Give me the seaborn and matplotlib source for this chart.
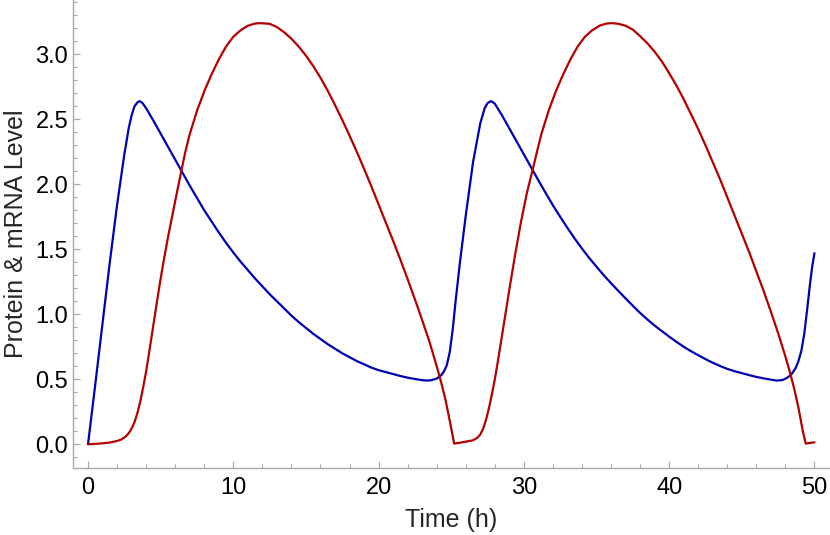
#!/usr/bin/env python3
"""Protein & mRNA oscillation over 50 h (two cycles), Mathematica-like look."""

import matplotlib

matplotlib.use("Agg")

import matplotlib.pyplot as plt
import pandas as pd
import seaborn as sns
from matplotlib.ticker import MultipleLocator

# mRNA (blue), values
mrna_time = [
    0.0, 0.5, 1.0, 1.5, 2.0, 2.5, 2.8, 3.0, 3.2, 3.4, 3.55, 3.75, 4.0, 4.5,
    5.0, 5.5, 6.0, 6.5, 7.0, 7.5, 8.0, 8.5, 9.0, 9.5, 10.0, 10.5, 11.0, 11.5,
    12.0, 12.5, 13.0, 13.5, 14.0, 14.5, 15.0, 15.5, 16.0, 16.5, 17.0, 17.5,
    18.0, 18.5, 19.0, 19.5, 20.0, 20.5, 21.0, 21.5, 22.0, 22.5, 23.0, 23.3,
    23.6, 24.0, 24.3, 24.5, 24.7, 24.9, 25.1, 25.3, 25.6, 26.0, 26.5, 27.0,
    27.3, 27.5, 27.75, 28.0, 28.5, 29.0, 29.5, 30.0, 30.5, 31.0, 31.5, 32.0,
    32.5, 33.0, 33.5, 34.0, 34.5, 35.0, 35.5, 36.0, 36.5, 37.0, 37.5, 38.0,
    38.5, 39.0, 39.5, 40.0, 40.5, 41.0, 41.5, 42.0, 42.5, 43.0, 43.5, 44.0,
    44.5, 45.0, 45.5, 46.0, 46.5, 47.0, 47.4, 47.8, 48.1, 48.4, 48.7, 48.9,
    49.1, 49.3, 49.5, 49.7, 49.85, 50.0,
]
mrna_level = [
    0.0, 0.46, 0.93, 1.40, 1.84, 2.23, 2.43, 2.53, 2.60, 2.63, 2.64, 2.625, 2.585, 2.49,
    2.39, 2.29, 2.19, 2.09, 1.99, 1.895, 1.80, 1.715, 1.63, 1.55, 1.475, 1.405, 1.34, 1.275,
    1.215, 1.155, 1.10, 1.045, 0.99, 0.94, 0.895, 0.85, 0.81, 0.77, 0.735, 0.70,
    0.67, 0.64, 0.615, 0.59, 0.57, 0.555, 0.54, 0.525, 0.512, 0.502, 0.493, 0.49,
    0.492, 0.505, 0.53, 0.56, 0.61, 0.71, 0.88, 1.10, 1.40, 1.76, 2.17, 2.47,
    2.585, 2.625, 2.64, 2.62, 2.53, 2.43, 2.33, 2.23, 2.13, 2.03, 1.933, 1.838,
    1.75, 1.664, 1.582, 1.505, 1.433, 1.366, 1.30, 1.239, 1.18, 1.122, 1.065, 1.01,
    0.96, 0.913, 0.87, 0.828, 0.788, 0.75, 0.716, 0.685, 0.655, 0.627, 0.602, 0.58,
    0.562, 0.547, 0.532, 0.518, 0.507, 0.497, 0.49, 0.494, 0.51, 0.535, 0.585, 0.64,
    0.72, 0.85, 1.04, 1.24, 1.37, 1.47,
]

# protein (red)
protein_time = [
    0.0, 0.5, 1.0, 1.5, 2.0, 2.3, 2.6, 2.8, 3.0, 3.2, 3.4, 3.6, 3.8, 4.0, 4.2,
    4.4, 4.6, 4.8, 5.0, 5.2, 5.5, 6.0, 6.4, 6.7, 7.0, 7.5, 8.0, 8.5, 9.0, 9.5,
    10.0, 10.5, 11.0, 11.5, 11.85, 12.5, 13.0, 13.5, 14.0, 14.5, 15.0, 15.5,
    16.0, 16.5, 17.0, 17.5, 18.0, 18.5, 19.0, 19.5, 20.0, 20.5, 21.0, 21.5,
    22.0, 22.5, 23.0, 23.5, 24.0, 24.3, 24.6, 24.9, 25.2, 25.5, 26.0, 26.5,
    26.8, 27.0, 27.2, 27.4, 27.6, 27.8, 28.0, 28.2, 28.4, 28.6, 28.8, 29.0,
    29.4, 29.8, 30.2, 30.6, 30.9, 31.2, 31.7, 32.2, 32.7, 33.2, 33.7, 34.2,
    34.7, 35.2, 35.7, 36.05, 36.5, 37.0, 37.5, 38.0, 38.5, 39.0, 39.5, 40.0,
    40.5, 41.0, 41.5, 42.0, 42.5, 43.0, 43.5, 44.0, 44.5, 45.0, 45.5, 46.0,
    46.5, 47.0, 47.5, 48.0, 48.3, 48.6, 48.9, 49.2, 49.4, 49.7, 50.0,
]
protein_level = [
    0.0, 0.003, 0.007, 0.013, 0.025, 0.037, 0.06, 0.085, 0.12, 0.17, 0.24, 0.33, 0.44, 0.56, 0.70,
    0.845, 0.99, 1.135, 1.275, 1.405, 1.59, 1.87, 2.09, 2.25, 2.385, 2.565, 2.715, 2.845, 2.96, 3.06,
    3.135, 3.185, 3.22, 3.237, 3.24, 3.235, 3.21, 3.17, 3.12, 3.06, 2.99, 2.91,
    2.82, 2.72, 2.61, 2.495, 2.375, 2.25, 2.12, 1.985, 1.845, 1.705, 1.565, 1.42,
    1.27, 1.115, 0.955, 0.79, 0.60, 0.48, 0.345, 0.18, 0.005, 0.01, 0.02, 0.03,
    0.05, 0.075, 0.12, 0.19, 0.28, 0.385, 0.50, 0.63, 0.77, 0.91, 1.05, 1.19,
    1.46, 1.71, 1.93, 2.11, 2.25, 2.385, 2.565, 2.715, 2.845, 2.96, 3.06, 3.135,
    3.185, 3.22, 3.237, 3.24, 3.235, 3.22, 3.19, 3.14, 3.085, 3.02, 2.945, 2.855,
    2.76, 2.655, 2.54, 2.425, 2.30, 2.17, 2.04, 1.90, 1.76, 1.62, 1.48, 1.33,
    1.18, 1.02, 0.855, 0.675, 0.56, 0.43, 0.28, 0.10, 0.005, 0.01, 0.015,
]

BLUE = "#0000b4"
RED = "#b40000"
AXIS_GRAY = "#aaaaaa"


def main() -> None:
    sns.set_theme(style="ticks")
    plt.rcParams["font.family"] = ["Liberation Sans", "DejaVu Sans"]

    mrna = pd.DataFrame({"time": mrna_time, "level": mrna_level})
    protein = pd.DataFrame({"time": protein_time, "level": protein_level})

    fig = plt.figure(figsize=(8.3, 5.35), dpi=100)
    ax = fig.add_axes([0.088, 0.1247, 0.912, 0.8753])

    sns.lineplot(data=mrna, x="time", y="level", color=BLUE, lw=1.6,
                 estimator=None, ax=ax)
    sns.lineplot(data=protein, x="time", y="level", color=RED, lw=1.6,
                 estimator=None, ax=ax)

    ax.set_xlim(-1.03, 51.07)
    ax.set_ylim(-0.185, 3.418)

    ax.xaxis.set_major_locator(MultipleLocator(10))
    ax.xaxis.set_minor_locator(MultipleLocator(2))
    ax.yaxis.set_major_locator(MultipleLocator(0.5))
    ax.yaxis.set_minor_locator(MultipleLocator(0.1))
    ax.yaxis.set_major_formatter(plt.FuncFormatter(lambda v, _: f"{v:.1f}"))

    for side in ("top", "right"):
        ax.spines[side].set_visible(False)
    for side in ("left", "bottom"):
        ax.spines[side].set_color(AXIS_GRAY)
        ax.spines[side].set_linewidth(1.0)

    ax.tick_params(which="major", direction="in", length=5, width=0.9,
                   color=AXIS_GRAY, labelsize=17, labelcolor="black")
    ax.tick_params(axis="x", which="major", pad=6)
    ax.tick_params(axis="y", which="major", pad=3.5)
    ax.tick_params(which="minor", direction="in", length=3, width=0.8,
                   color=AXIS_GRAY)

    ax.set_xlabel("Time (h)", fontsize=18, labelpad=7)
    ax.set_ylabel("Protein & mRNA Level", fontsize=18, labelpad=5)

    fig.savefig("out.png", dpi=100)
    plt.close(fig)


if __name__ == "__main__":
    main()
